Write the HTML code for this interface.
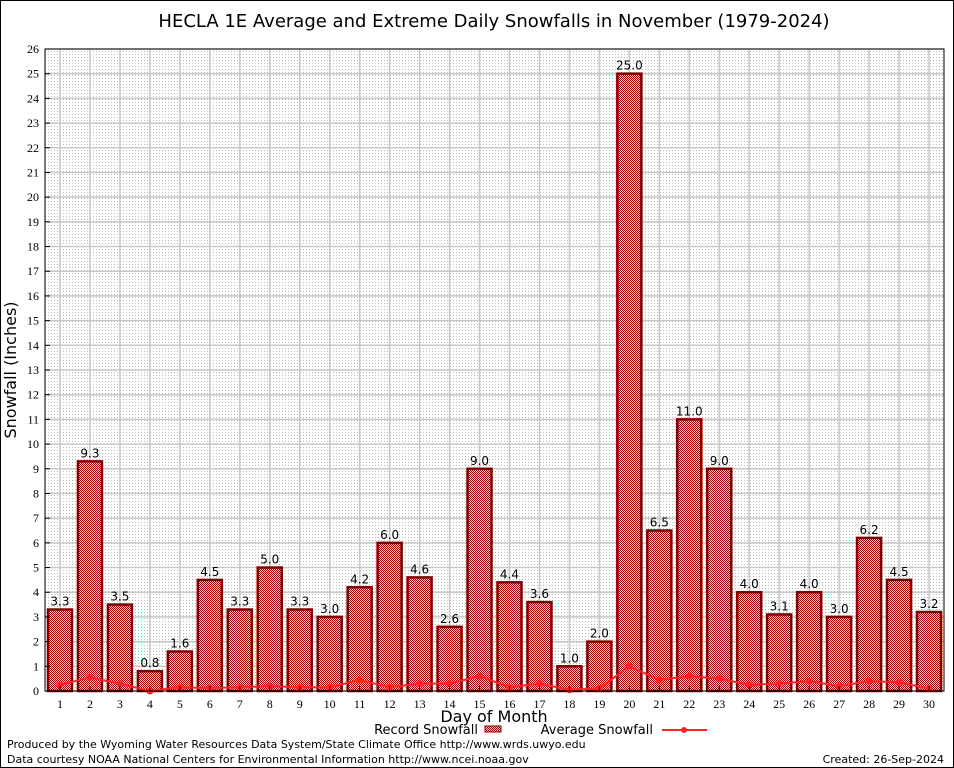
<!DOCTYPE html>
<html><head><meta charset="utf-8"><style>
body{margin:0;background:#fff}
svg{display:block}
text{font-family:"DejaVu Sans","Liberation Sans",sans-serif}
text.serif{font-family:"Liberation Serif",serif}
</style></head><body>
<svg id="c" width="954" height="768" viewBox="0 0 954 768">
<defs>
<pattern id="bp" width="2" height="2" patternUnits="userSpaceOnUse"><rect width="2" height="2" fill="#f4d0d0"/><rect width="1" height="1" fill="#a00000"/><rect x="1" y="1" width="1" height="1" fill="#a00000"/></pattern>
<pattern id="gp" width="3" height="3" patternUnits="userSpaceOnUse"><rect width="3" height="3" fill="#fff"/><rect width="1" height="1" fill="#bbb"/></pattern>
</defs>
<rect x="0.5" y="0.5" width="953" height="767" fill="#fff" stroke="#000"/>
<text x="494" y="27" font-size="18" text-anchor="middle">HECLA 1E Average and Extreme Daily Snowfalls in November (1979-2024)</text>
<rect x="45" y="49" width="899" height="642" fill="url(#gp)"/>
<g id="grid"></g>
<g id="bars"></g>
<g id="avg"></g>
<rect x="45" y="49" width="899" height="642" fill="none" stroke="#000"/>
<g id="axes"></g>
<text x="16" y="370" font-size="16" text-anchor="middle" transform="rotate(-90 16 370)">Snowfall (Inches)</text>
<text x="494" y="722" font-size="16" text-anchor="middle">Day of Month</text>
<g>
<text x="478" y="734" font-size="13" text-anchor="end">Record Snowfall</text>
<rect x="485" y="726" width="16" height="6" fill="url(#bp)" stroke="#8b0000"/>
</g>
<g>
<text x="653" y="734" font-size="13" text-anchor="end">Average Snowfall</text>
<line x1="662" y1="730" x2="707" y2="730" stroke="#f22" stroke-width="2"/>
<circle cx="684" cy="730" r="3" fill="#f22"/>
</g>
<text x="7" y="748" font-size="11">Produced by the Wyoming Water Resources Data System/State Climate Office http://www.wrds.uwyo.edu</text>
<text x="7" y="763" font-size="11">Data courtesy NOAA National Centers for Environmental Information http://www.ncei.noaa.gov</text>
<text x="944" y="763" font-size="11" text-anchor="end">Created: 26-Sep-2024</text>
</svg>
<script>
const days=[1,2,3,4,5,6,7,8,9,10,11,12,13,14,15,16,17,18,19,20,21,22,23,24,25,26,27,28,29,30];
const records=[3.3,9.3,3.5,0.8,1.6,4.5,3.3,5.0,3.3,3.0,4.2,6.0,4.6,2.6,9.0,4.4,3.6,1.0,2.0,25.0,6.5,11.0,9.0,4.0,3.1,4.0,3.0,6.2,4.5,3.2];
const averages=[0.25,0.55,0.3,0.0,0.15,0.12,0.15,0.2,0.15,0.15,0.45,0.15,0.3,0.3,0.6,0.15,0.3,0.05,0.1,1.0,0.45,0.6,0.5,0.25,0.3,0.4,0.2,0.4,0.35,0.1];
const yTicks=[0,1,2,3,4,5,6,7,8,9,10,11,12,13,14,15,16,17,18,19,20,21,22,23,24,25,26];
const NS="http://www.w3.org/2000/svg";
const L=45,R=944,T=49,B=691,YMAX=26;
const xs=d=>L+(d-0.5)*(R-L)/30;
const ys=v=>B-v*(B-T)/YMAX;
function mk(tag,attrs,parent){const e=document.createElementNS(NS,tag);for(const k in attrs)e.setAttribute(k,attrs[k]);document.getElementById(parent).appendChild(e);return e;}
yTicks.forEach(t=>{
 const g=mk('line',{x1:L,x2:R,y1:ys(t),y2:ys(t),stroke:'#c8c8c8','stroke-width':1.5},'grid');
 
 
 const tx=mk('text',{x:L-6,y:ys(t)+4,'font-size':12,'text-anchor':'end','class':'serif'},'axes');
 tx.textContent=t;
 
 
 mk('line',{x1:L,x2:L+5,y1:ys(t),y2:ys(t),stroke:'#000'},'axes');
});
days.forEach((d,i)=>{
 const g=mk('line',{x1:xs(d),x2:xs(d),y1:T,y2:B,stroke:'#c8c8c8','stroke-width':1.5},'grid');
 
 
 const w=24,v=records[i];
 const r=mk('rect',{x:xs(d)-w/2,y:ys(v),width:w,height:B-ys(v),fill:'url(#bp)',stroke:'#800000','stroke-width':2.5},'bars');
 
 
 const lb=mk('text',{x:xs(d),y:ys(v)-4,'font-size':12,'text-anchor':'middle'},'bars');
 lb.textContent=v.toFixed(1);
 
 
 const tx=mk('text',{x:xs(d),y:B+17,'font-size':12,'text-anchor':'middle','class':'serif'},'axes');
 tx.textContent=d;
 
 
 mk('line',{x1:xs(d),x2:xs(d),y1:B,y2:B-5,stroke:'#000'},'axes');
});
const pl=mk('polyline',{points:days.map((d,i)=>xs(d)+','+ys(averages[i])).join(' '),fill:'none',stroke:'#f22','stroke-width':2},'avg');


days.forEach((d,i)=>{
 const c=mk('circle',{cx:xs(d),cy:ys(averages[i]),r:3.5,fill:'#f22'},'avg');
 
 
});
</script>
</body></html>
